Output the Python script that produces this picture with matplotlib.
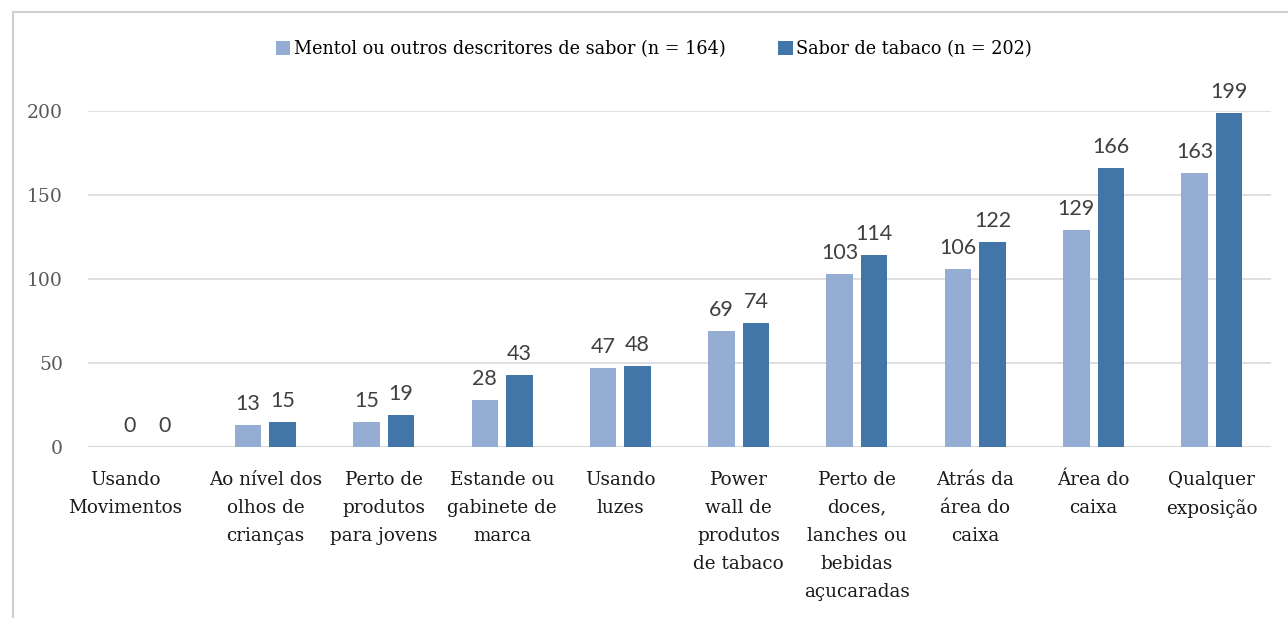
import matplotlib.pyplot as plt
import matplotlib.transforms as mtransforms
import numpy as np

categories = ["Usando\nMovimentos", "Ao nível dos\nolhos de\ncrianças", "Perto de\nprodutos\npara jovens",
              "Estande ou\ngabinete de\nmarca", "Usando\nluzes", "Power\nwall de\nprodutos\nde tabaco",
              "Perto de\ndoces,\nlanches ou\nbebidas\naçucaradas", "Atrás da\nárea do\ncaixa",
              "Área do\ncaixa", "Qualquer\nexposição"]
mentol = [0, 13, 15, 28, 47, 69, 103, 106, 129, 163]
tabaco = [0, 15, 19, 43, 48, 74, 114, 122, 166, 199]
series_names = ["Mentol ou outros descritores de sabor (n = 164)", "Sabor de tabaco (n = 202)"]

C_LIGHT = "#95ACD3"
C_DARK = "#4275A8"
SERIF = "DejaVu Serif"
SANS = "Lato"

fig = plt.figure(figsize=(12.88, 6.18), dpi=100)
ax = fig.add_axes([88 / 1288, 1 - 447 / 618, 1183 / 1288, 336 / 618])

# chart border (partially outside the picture)
fig.add_artist(plt.Rectangle((13 / 1288, -0.1), 1.2, (618 - 12) / 618 + 0.1, transform=fig.transFigure,
                             fill=False, edgecolor="#D0D0D0", linewidth=1.5))

x = np.arange(len(categories))
w = 0.224
off = 0.146
b1 = ax.bar(x - off, mentol, w, color=C_LIGHT, label=series_names[0], zorder=3)
b2 = ax.bar(x + off, tabaco, w, color=C_DARK, label=series_names[1], zorder=3)

for bars in (b1, b2):
    for r in bars:
        ax.annotate(str(int(r.get_height())), (r.get_x() + r.get_width() / 2, r.get_height()),
                    xytext=(0, 8), textcoords="offset points", ha="center", va="bottom",
                    fontsize=15.5, family=SANS, color="#404040")

ax.set_xlim(-0.5, 9.5)
ax.set_ylim(0, 200)
ax.set_yticks([0, 50, 100, 150, 200])
ax.yaxis.grid(True, color="#D9D9D9", linewidth=1.2, zorder=0)
ax.set_axisbelow(True)
for s in ax.spines.values():
    s.set_visible(False)
ax.axhline(0, color="#D9D9D9", linewidth=1.5, zorder=2)
ax.tick_params(axis="y", length=0, pad=18, labelsize=13.5, labelcolor="#595959")
ax.tick_params(axis="x", length=0, pad=17)
for t in ax.get_yticklabels():
    t.set_family(SERIF)
ax.set_xticks(x)
ax.set_xticklabels(categories, fontsize=13.2, family=SERIF, linespacing=1.72, color="#1a1a1a")

# first label sits a bit left of its group in the original
lab0 = ax.get_xticklabels()[0]
lab0.set_transform(lab0.get_transform() + mtransforms.ScaledTranslation(-0.22, 0, fig.dpi_scale_trans))

leg = fig.legend(loc="center", bbox_to_anchor=(654 / 1288, 1 - 49 / 618), ncol=2, frameon=False,
                 prop={"family": SERIF, "size": 12.7}, handlelength=0.8, handleheight=0.8,
                 handletextpad=0.2, columnspacing=3.0)

fig.savefig("out.png", dpi=100)
